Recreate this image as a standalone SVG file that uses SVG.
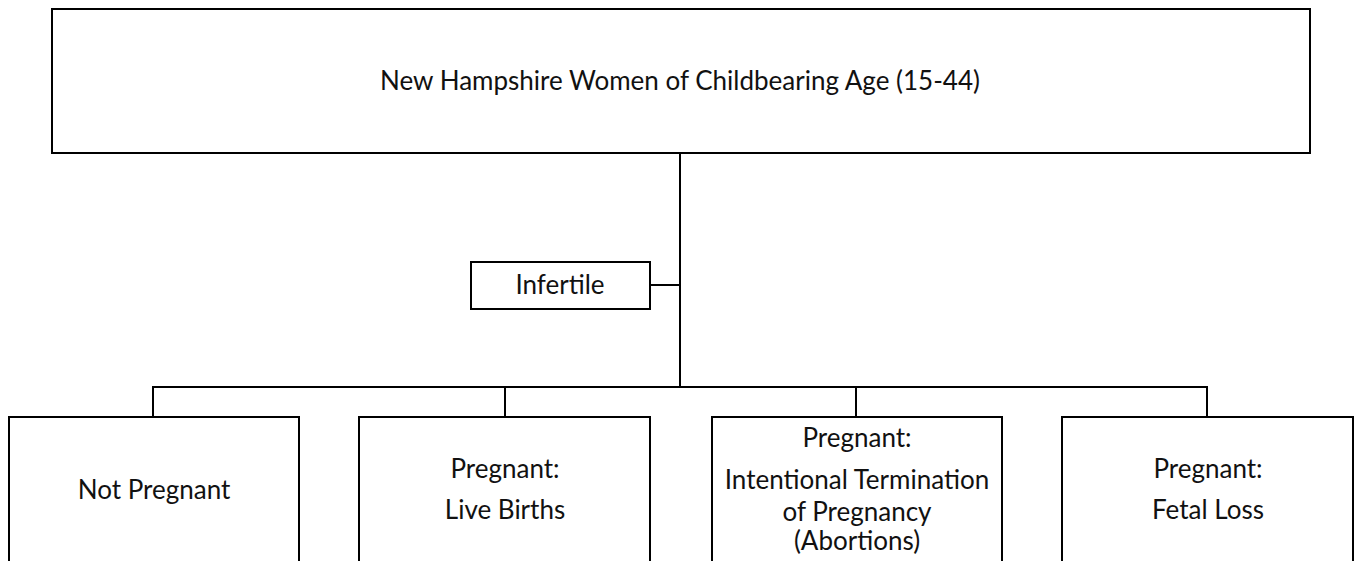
<svg xmlns="http://www.w3.org/2000/svg" width="1354" height="561" viewBox="0 0 1354 561">
<style>
.box{fill:#fff;stroke:#000;stroke-width:2}
.ln{fill:none;stroke:#000;stroke-width:2}
text{font-family:Lato,"Open Sans","Liberation Sans",sans-serif;font-size:26px;fill:#111;text-anchor:middle}
</style>
<rect width="1354" height="561" fill="#fff"/>
<g id="connectors">
<path class="ln" d="M680 153 V387"/>
<path class="ln" d="M650 285 H680"/>
<path class="ln" d="M153 417 V387 H1207 V417"/>
<path class="ln" d="M505 387 V417"/>
<path class="ln" d="M856 387 V417"/>
</g>
<g id="top">
<rect class="box" x="52" y="9" width="1258" height="144"/>
<text x="680" y="90">New Hampshire Women of Childbearing Age (15-44)</text>
</g>
<g id="infertile">
<rect class="box" x="471" y="262" width="179" height="47"/>
<text x="560" y="294">Infertile</text>
</g>
<g id="not-pregnant">
<rect class="box" x="9" y="417" width="290" height="160"/>
<text x="154" y="499">Not Pregnant</text>
</g>
<g id="live-births">
<rect class="box" x="359" y="417" width="291" height="160"/>
<text x="505" y="478">Pregnant:</text>
<text x="505" y="519">Live Births</text>
</g>
<g id="abortions">
<rect class="box" x="712" y="417" width="290" height="160"/>
<text x="857" y="447">Pregnant:</text>
<text x="857" y="489">Intentional Termination</text>
<text x="857" y="521">of Pregnancy</text>
<text x="857" y="550">(Abortions)</text>
</g>
<g id="fetal-loss">
<rect class="box" x="1062" y="417" width="291" height="160"/>
<text x="1208" y="478">Pregnant:</text>
<text x="1208" y="519">Fetal Loss</text>
</g>
</svg>
